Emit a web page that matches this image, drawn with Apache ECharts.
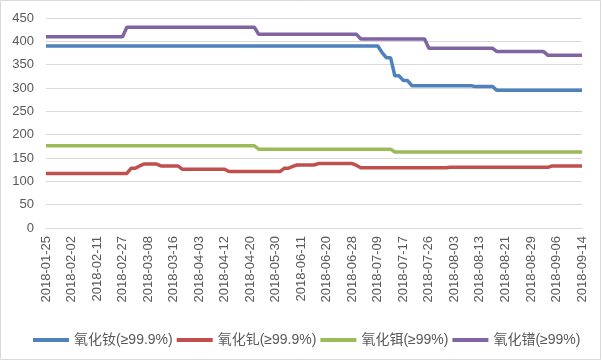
<!DOCTYPE html>
<html>
<head>
<meta charset="utf-8">
<script src="https://cdn.jsdelivr.net/npm/echarts@6/dist/echarts.min.js"></script>
<style>
html,body{margin:0;padding:0;background:#fff;}
#c{width:602px;height:362px;}
</style>
</head>
<body>
<div id="c"></div>
<script>
var dates = [
'2018-01-25','2018-01-26','2018-01-29','2018-01-30','2018-01-31','2018-02-01',
'2018-02-02','2018-02-05','2018-02-06','2018-02-07','2018-02-08','2018-02-09',
'2018-02-11','2018-02-12','2018-02-13','2018-02-22','2018-02-23','2018-02-26',
'2018-02-27','2018-02-28','2018-03-01','2018-03-02','2018-03-05','2018-03-07',
'2018-03-08','2018-03-09','2018-03-12','2018-03-13','2018-03-14','2018-03-15',
'2018-03-16','2018-03-19','2018-03-21','2018-03-23','2018-03-27','2018-03-30',
'2018-04-03','2018-04-04','2018-04-08','2018-04-09','2018-04-10','2018-04-11',
'2018-04-12','2018-04-13','2018-04-16','2018-04-17','2018-04-18','2018-04-19',
'2018-04-20','2018-04-24','2018-05-03','2018-05-10','2018-05-17','2018-05-24',
'2018-05-30','2018-05-31','2018-06-01','2018-06-04','2018-06-06','2018-06-08',
'2018-06-11','2018-06-12','2018-06-13','2018-06-14','2018-06-15','2018-06-19',
'2018-06-20','2018-06-21','2018-06-22','2018-06-25','2018-06-26','2018-06-27',
'2018-06-28','2018-06-29','2018-07-02','2018-07-03','2018-07-04','2018-07-06',
'2018-07-09','2018-07-10','2018-07-11','2018-07-12','2018-07-13','2018-07-16',
'2018-07-17','2018-07-18','2018-07-19','2018-07-20','2018-07-23','2018-07-24',
'2018-07-26','2018-07-27','2018-07-30','2018-07-31','2018-08-01','2018-08-02',
'2018-08-03','2018-08-06','2018-08-07','2018-08-08','2018-08-09','2018-08-10',
'2018-08-13','2018-08-14','2018-08-15','2018-08-16','2018-08-17','2018-08-20',
'2018-08-21','2018-08-22','2018-08-23','2018-08-24','2018-08-27','2018-08-28',
'2018-08-29','2018-08-30','2018-08-31','2018-09-03','2018-09-04','2018-09-05',
'2018-09-06','2018-09-07','2018-09-10','2018-09-11','2018-09-12','2018-09-13',
'2018-09-14'
];

var seriesNames = ['氧化钕(≥99.9%)','氧化钆(≥99.9%)','氧化铒(≥99%)','氧化镨(≥99%)'];

var ndOxide = [
390,390,390,390,390,390,390,390,390,390,
390,390,390,390,390,390,390,390,390,390,
390,390,390,390,390,390,390,390,390,390,
390,390,390,390,390,390,390,390,390,390,
390,390,390,390,390,390,390,390,390,390,
390,390,390,390,390,390,390,390,390,390,
390,390,390,390,390,390,390,390,390,390,
390,390,390,390,390,390,390,390,390,376,
365,365,326,326,316,316,305,305,305,305,
305,305,305,305,305,305,305,305,305,305,
305,303,303,303,303,303,295,295,295,295,
295,295,295,295,295,295,295,295,295,295,
295,295,295,295,295,295,295
];

var gdOxide = [
117,117,117,117,117,117,117,117,117,117,
117,117,117,117,117,117,117,117,117,117,
128,128,133,137,137,137,137,133,133,133,
133,133,126,126,126,126,126,126,126,126,
126,126,126,121,121,121,121,121,121,121,
121,121,121,121,121,121,128,128,132,135,
135,135,135,135,138,138,138,138,138,138,
138,138,138,134,129,129,129,129,129,129,
129,129,129,129,129,129,129,129,129,129,
129,129,129,129,129,130,130,130,130,130,
130,130,130,130,130,130,130,130,130,130,
130,130,130,130,130,130,130,130,130,133,
133,133,133,133,133,133,133
];

var erOxide = [
176,176,176,176,176,176,176,176,176,176,
176,176,176,176,176,176,176,176,176,176,
176,176,176,176,176,176,176,176,176,176,
176,176,176,176,176,176,176,176,176,176,
176,176,176,176,176,176,176,176,176,176,
169,169,169,169,169,169,169,169,169,169,
169,169,169,169,169,169,169,169,169,169,
169,169,169,169,169,169,169,169,169,169,
169,169,163,163,163,163,163,163,163,163,
163,163,163,163,163,163,163,163,163,163,
163,163,163,163,163,163,163,163,163,163,
163,163,163,163,163,163,163,163,163,163,
163,163,163,163,163,163,163
];

var prOxide = [
410,410,410,410,410,410,410,410,410,410,
410,410,410,410,410,410,410,410,410,430,
430,430,430,430,430,430,430,430,430,430,
430,430,430,430,430,430,430,430,430,430,
430,430,430,430,430,430,430,430,430,430,
415,415,415,415,415,415,415,415,415,415,
415,415,415,415,415,415,415,415,415,415,
415,415,415,415,405,405,405,405,405,405,
405,405,405,405,405,405,405,405,405,405,
385,385,385,385,385,385,385,385,385,385,
385,385,385,385,385,385,378,378,378,378,
378,378,378,378,378,378,378,378,370,370,
370,370,370,370,370,370,370
];

var yTicks = {min: 0, max: 450, interval: 50};
var colors = ['#4f81bd','#c0504d','#9bbb59','#8064a2'];
var allData = [ndOxide, gdOxide, erOxide, prOxide];

var chart = echarts.init(document.getElementById('c'), null, {renderer: 'canvas'});
var fontFam = '"Liberation Sans", Arial, "Noto Sans CJK SC", sans-serif';

chart.setOption({
  animation: false,
  backgroundColor: '#ffffff',
  color: colors,
  graphic: [{
    type: 'rect',
    shape: {x: 0.5, y: 0.5, width: 600, height: 359},
    style: {fill: 'none', stroke: '#d9d9d9', lineWidth: 1},
    silent: true
  }],
  grid: {left: 46, right: 20, top: 18, bottom: 134, containLabel: false},
  legend: {
    left: 28,
    top: 328,
    width: 575,
    icon: 'rect',
    itemWidth: 36,
    itemHeight: 4,
    itemGap: 4,
    textStyle: {color: '#595959', fontSize: 14, fontFamily: fontFam},
    data: seriesNames
  },
  xAxis: {
    type: 'category',
    data: dates,
    boundaryGap: false,
    axisLine: {show: true, lineStyle: {color: '#d9d9d9'}},
    axisTick: {show: false},
    axisLabel: {
      interval: 5,
      rotate: 90,
      margin: 8,
      color: '#595959',
      fontSize: 13,
      fontFamily: fontFam
    },
    splitLine: {show: false}
  },
  yAxis: {
    type: 'value',
    min: yTicks.min,
    max: yTicks.max,
    interval: yTicks.interval,
    axisLine: {show: false},
    axisTick: {show: false},
    axisLabel: {color: '#595959', fontSize: 13, margin: 12, fontFamily: fontFam},
    splitLine: {lineStyle: {color: '#d9d9d9', width: 1}}
  },
  series: seriesNames.map(function (n, i) {
    return {
      name: n,
      type: 'line',
      data: allData[i],
      symbol: 'none',
      smooth: false,
      lineStyle: {width: 3.5, color: colors[i]},
      itemStyle: {color: colors[i]}
    };
  })
});
</script>
</body>
</html>
